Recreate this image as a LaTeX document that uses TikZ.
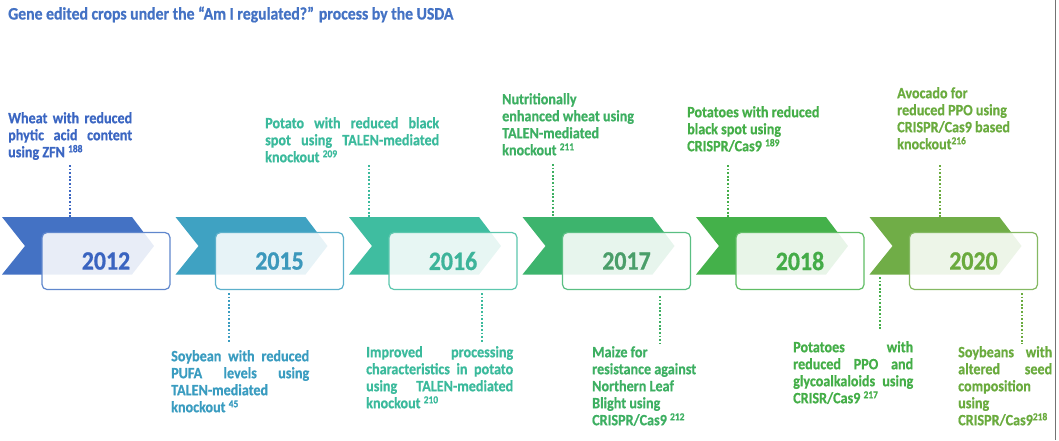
\documentclass[tikz,border=0pt]{standalone}
\usepackage{fontspec}
\setmainfont{Carlito}
\newfontfamily\labfont{Carlito}[FakeStretch=0.9, BoldFeatures={FakeBold=0.7}]
\definecolor{cA}{HTML}{4472C4}
\definecolor{cB}{HTML}{3FA2C2}
\definecolor{cC}{HTML}{3FBDA0}
\definecolor{cD}{HTML}{3DB46D}
\definecolor{cE}{HTML}{44B14A}
\definecolor{cF}{HTML}{70AD47}
\definecolor{tA}{HTML}{3B66C2}
\definecolor{tB}{HTML}{3A9CC0}
\definecolor{tC}{HTML}{3BBA9C}
\definecolor{tD}{HTML}{3DAF62}
\definecolor{tE}{HTML}{44AE48}
\definecolor{tF}{HTML}{6AAB3E}
\definecolor{yA}{HTML}{3A64C0}
\definecolor{yB}{HTML}{3C98BC}
\definecolor{yC}{HTML}{3DB49A}
\definecolor{yD}{HTML}{4A9E6A}
\definecolor{yE}{HTML}{44AC48}
\definecolor{yF}{HTML}{6AAA3E}
\newcommand\refsup[1]{\raisebox{5pt}{\fontsize{10.5}{10}\selectfont #1}}
\begin{document}
\begin{tikzpicture}[x=1pt,y=-1pt,
  yearbox/.style={minimum width=128pt, minimum height=57pt, inner sep=0,
    rounded corners=5pt, fill=white, fill opacity=0.88, text opacity=1,
    line width=1.2pt, font=\labfont\bfseries\fontsize{26.5}{26}\selectfont},
  lab/.style={font=\labfont\bfseries\fontsize{15.7}{17}\selectfont, inner sep=0, anchor=north west},
  jus/.style={align=justify},
  dotline/.style={line width=2pt, dash pattern=on 1.8pt off 1.8pt}]
\useasboundingbox (0,0) rectangle (1059,440);

\node[font=\labfont\bfseries\fontsize{17.5}{18}\selectfont, text=cA, anchor=base west, inner sep=0] (title) at (8,19.5)
  {Gene edited crops under the “Am I regulated?” process by the USDA};

\foreach \i/\xo/\c/\yc/\yr in {1/2/cA/yA/2012, 2/175.5/cB/yB/2015, 3/349/cC/yC/2016,
    4/522.5/cD/yD/2017, 5/696/cE/yE/2018, 6/869.5/cF/yF/2020} {
  \fill[\c] (\xo,217) -- ++(130,0) -- ++(22,29) -- ++(-22,28.5) -- ++(-130,0) -- ++(23,-28.5) -- cycle;
  \node[yearbox, draw=\c!85, text=\yc] (y\i) at (\xo+104,261) {\yr};
}

% top labels
\node[lab, jus, text=tA, text width=124pt] (l1) at (8,112)
  {Wheat with reduced\linebreak phytic acid content\linebreak using ZFN \refsup{188}};
\node[lab, jus, text=tC, text width=174pt] (l2) at (265,117)
  {Potato with reduced black\linebreak spot using TALEN-mediated\linebreak knockout \refsup{209}};
\node[lab, align=left, text=tD] (l3) at (502,93)
  {Nutritionally\\ enhanced wheat using\\ TALEN-mediated\\ knockout \refsup{211}};
\node[lab, align=left, text=tE] (l4) at (687,106)
  {Potatoes with reduced\\ black spot using\\ CRISPR/Cas9 \refsup{189}};
\node[lab, align=left, text=tF] (l5) at (897,87)
  {Avocado for\\ reduced PPO using\\ CRISPR/Cas9 based\\ knockout\refsup{216}};

% bottom labels
\node[lab, jus, text=tB, text width=138pt] (l6) at (171,350)
  {Soybean with reduced\linebreak PUFA levels using\linebreak TALEN-mediated\\ knockout \refsup{45}};
\node[lab, jus, text=tC, text width=147pt] (l7) at (366,346)
  {Improved processing\linebreak characteristics in potato\linebreak using TALEN-mediated\linebreak knockout \refsup{210}};
\node[lab, align=left, text=tD] (l8) at (592,346)
  {Maize for\\ resistance against\\ Northern Leaf\\ Blight using\\ CRISPR/Cas9 \refsup{212}};
\node[lab, jus, text=tE, text width=120pt] (l9) at (793,341)
  {Potatoes with\linebreak reduced PPO and\linebreak glycoalkaloids using\linebreak CRISR/Cas9 \refsup{217}};
\node[lab, jus, text=tF, text width=94pt] (l10) at (958,346)
  {Soybeans with\linebreak altered seed\linebreak composition\\ using\\ CRISPR/Cas9\refsup{218}};

% dotted connectors
\coordinate (a1) at (70,165);   \coordinate (b1) at (70,217);
\coordinate (a2) at (229,293);  \coordinate (b2) at (229,343);
\coordinate (a3) at (369,165);  \coordinate (b3) at (369,217);
\coordinate (a4) at (482,293);  \coordinate (b4) at (482,343);
\coordinate (a5) at (553,164);  \coordinate (b5) at (553,217);
\coordinate (a6) at (660,296);  \coordinate (b6) at (660,344);
\coordinate (a7) at (728,165);  \coordinate (b7) at (728,217);
\coordinate (a8) at (880,277);  \coordinate (b8) at (880,330);
\coordinate (a9) at (940,165);  \coordinate (b9) at (940,217);
\coordinate (a10) at (1022,293); \coordinate (b10) at (1022,344);
\draw[dotline, tA] (a1) -- (b1);
\draw[dotline, tB] (a2) -- (b2);
\draw[dotline, tC] (a3) -- (b3);
\draw[dotline, tC] (a4) -- (b4);
\draw[dotline, tD] (a5) -- (b5);
\draw[dotline, tD] (a6) -- (b6);
\draw[dotline, tE] (a7) -- (b7);
\draw[dotline, tE] (a8) -- (b8);
\draw[dotline, tF] (a9) -- (b9);
\draw[dotline, tF] (a10) -- (b10);

% right border
\coordinate (rt) at (1055.5,0); \coordinate (rb) at (1055.5,440);
\draw[black!55, line width=1.2pt] (rt) -- (rb);
\end{tikzpicture}
\end{document}
